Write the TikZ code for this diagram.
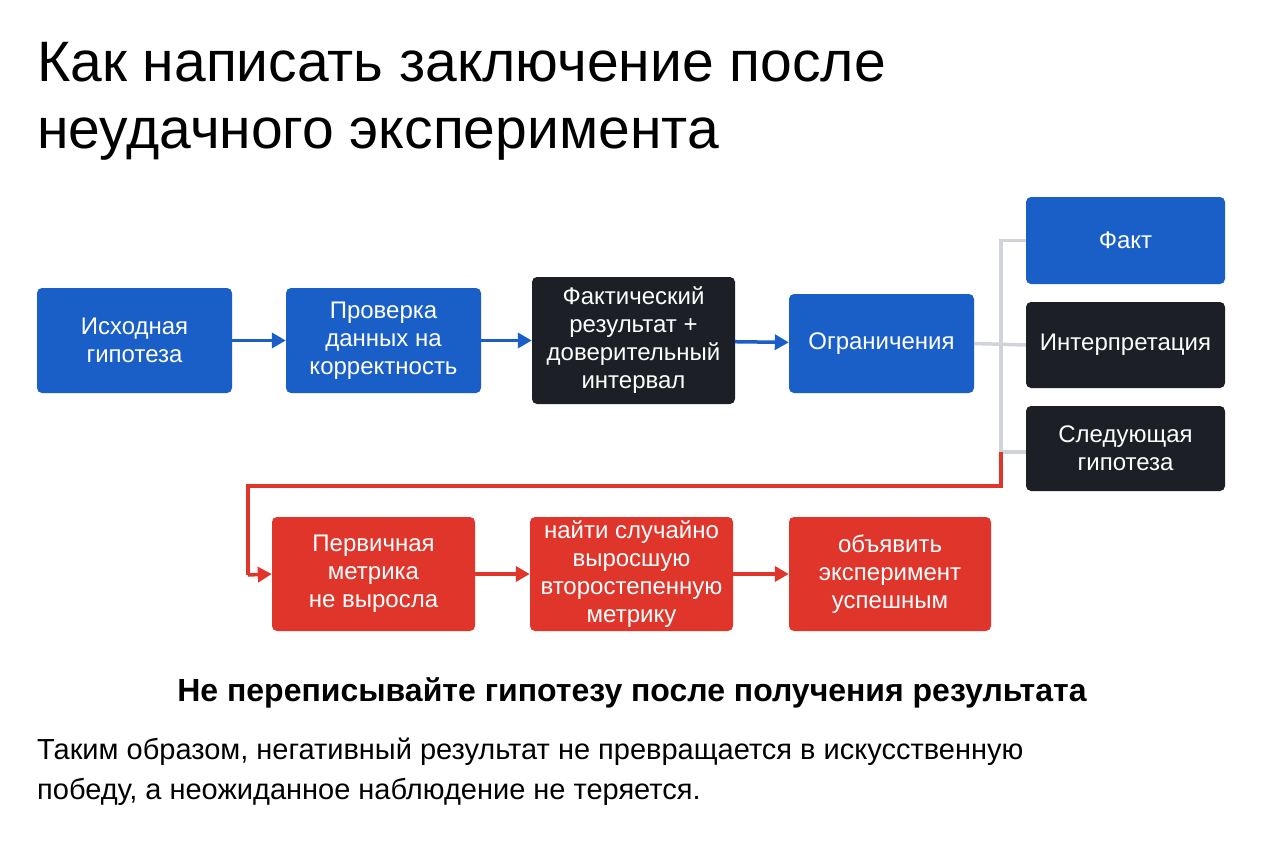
\documentclass[tikz,border=0pt]{standalone}
\usepackage{fontspec}
\setmainfont{Liberation Sans}
\usetikzlibrary{arrows.meta}
\definecolor{bl}{HTML}{1A5FC8}
\definecolor{dk}{HTML}{1C1F26}
\definecolor{rd}{HTML}{E0352B}
\definecolor{gr}{HTML}{D0D3D8}
\begin{document}
\begin{tikzpicture}[x=1pt,y=-1pt,
 box/.style={rounded corners=5pt,inner sep=0pt,text=white,align=center,font=\fontsize{24}{28}\selectfont},
 ar/.style={-{Triangle[length=14pt,width=15pt]},line width=3.5pt}]
\useasboundingbox (0,0) rectangle (1264,848);
\fill[white] (0,0) rectangle (1264,848);
\node[anchor=north west,align=left,font=\fontsize{57}{67}\selectfont,inner sep=0pt] (title) at (37,42) {Как написать заключение после\\неудачного эксперимента};
\newcommand\bx[7]{\node[box,fill=#6,minimum width=#3-#2,minimum height=#5-#4] (#1) at ({(#2+#3)/2},{(#4+#5)/2}) {#7};}
\bx{a}{37}{232}{288}{393}{bl}{Исходная\\гипотеза}
\bx{b}{286}{481}{288}{393}{bl}{Проверка\\данных на\\корректность}
\bx{c}{532}{735}{277}{404}{dk}{Фактический\\результат +\\доверительный\\интервал}
\bx{d}{789}{974}{294}{393}{bl}{Ограничения}
\bx{f}{1026}{1225}{197}{284}{bl}{Факт}
\bx{i}{1026}{1225}{302}{388}{dk}{Интерпретация}
\bx{s}{1026}{1225}{406}{491}{dk}{Следующая\\гипотеза}
\bx{r1}{272}{475}{517}{631}{rd}{Первичная\\метрика\\не выросла}
\bx{r2}{530}{733}{517}{631}{rd}{найти случайно\\выросшую\\второстепенную\\метрику}
\bx{r3}{789}{991}{517}{631}{rd}{объявить\\эксперимент\\успешным}
\draw[ar,bl] (a) -- (b);
\draw[ar,bl] (b) -- (c);
\draw[ar,bl] (c) -- (d);
\draw[ar,rd] (r1) -- (r2);
\draw[ar,rd] (r2) -- (r3);
\draw[gr,line width=3.5pt] (d.east) -- (i.west);
\draw[gr,line width=3.5pt] (f.west) -| (1001,452) -- (s.west |- 0,452);
\draw[rd,line width=3.5pt] (1001,452) -- (1001,486) -- (248,486) -- (248,575);
\draw[ar,rd] (248,575) -- (r1.west);
\node[font=\bfseries\fontsize{32}{36}\selectfont,inner sep=0pt] (h) at (632,693) {Не переписывайте гипотезу после получения результата};
\node[anchor=north west,align=left,font=\fontsize{29}{40}\selectfont,inner sep=0pt] (p) at (37,738) {Таким образом, негативный результат не превращается в искусственную\\победу, а неожиданное наблюдение не теряется.};
\end{tikzpicture}
\end{document}
